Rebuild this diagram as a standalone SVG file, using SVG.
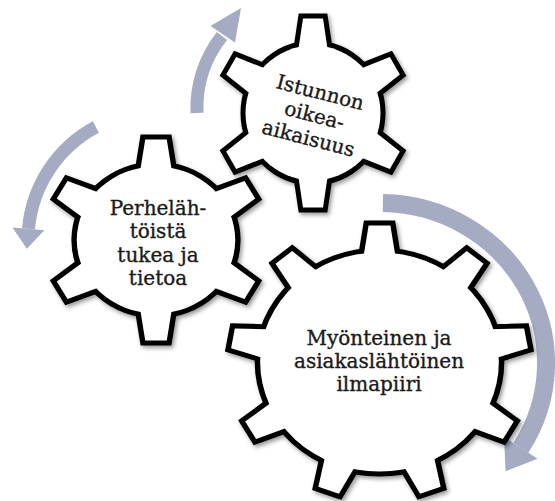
<svg xmlns="http://www.w3.org/2000/svg" width="555" height="501" viewBox="0 0 555 501">
<defs>
<style>
.outline { fill: #000; stroke: #000; stroke-width: 10; stroke-linejoin: miter; filter: url(#shadow); }
.face { fill: #fff; stroke: none; }
.label { font-family: "DejaVu Serif", "Liberation Serif", serif; font-size: 20px; fill: #1a1a1a; stroke: #1a1a1a; stroke-width: 0.35; text-anchor: middle; }
.arc { fill: none; stroke: #a4abc3; }
.head { fill: #a4abc3; stroke: none; }
</style>
<filter id="shadow" x="-10%" y="-10%" width="125%" height="125%">
<feDropShadow dx="2" dy="2.5" stdDeviation="2" flood-color="#000" flood-opacity="0.4"/>
</filter>
<path id="tooth" d="M-10,0 L10,0 L16,40 L-16,40 Z"/>
<g id="shape-large" transform="translate(379.5,362) scale(1.09,1)">
<circle r="109.5"/>
<use href="#tooth" transform="rotate(0) translate(0,-136.5)"/>
<use href="#tooth" transform="rotate(40) translate(0,-136.5)"/>
<use href="#tooth" transform="rotate(80) translate(0,-136.5)"/>
<use href="#tooth" transform="rotate(120) translate(0,-136.5)"/>
<use href="#tooth" transform="rotate(160) translate(0,-136.5)"/>
<use href="#tooth" transform="rotate(200) translate(0,-136.5)"/>
<use href="#tooth" transform="rotate(240) translate(0,-136.5)"/>
<use href="#tooth" transform="rotate(280) translate(0,-136.5)"/>
<use href="#tooth" transform="rotate(320) translate(0,-136.5)"/>
</g>
<g id="shape-top" transform="translate(313,113)">
<circle r="67.5"/>
<use href="#tooth" transform="rotate(0) translate(0,-94.5)"/>
<use href="#tooth" transform="rotate(60) translate(0,-94.5)"/>
<use href="#tooth" transform="rotate(120) translate(0,-94.5)"/>
<use href="#tooth" transform="rotate(180) translate(0,-94.5)"/>
<use href="#tooth" transform="rotate(240) translate(0,-94.5)"/>
<use href="#tooth" transform="rotate(300) translate(0,-94.5)"/>
</g>
<g id="shape-left" transform="translate(156,240) scale(1.078,1)">
<circle r="73.5"/>
<use href="#tooth" transform="rotate(0) translate(0,-100.5)"/>
<use href="#tooth" transform="rotate(60) translate(0,-100.5)"/>
<use href="#tooth" transform="rotate(120) translate(0,-100.5)"/>
<use href="#tooth" transform="rotate(180) translate(0,-100.5)"/>
<use href="#tooth" transform="rotate(240) translate(0,-100.5)"/>
<use href="#tooth" transform="rotate(300) translate(0,-100.5)"/>
</g>
</defs>

<g id="connectors">
<g id="arrow-top">
<path class="arc" stroke-width="13" d="M197,113 A116,116 0 0 1 222,36"/>
<polygon class="head" points="210.5,26 235,42.5 241,8"/>
</g>
<g id="arrow-left">
<path class="arc" stroke-width="13" d="M95.9,127 A128,128 0 0 0 28.5,228.8"/>
<polygon class="head" points="12.5,227.4 44.4,230.2 26.8,248.7"/>
</g>
<g id="arrow-right">
<path class="arc" stroke-width="18" d="M382.9,203 A166,160 0 0 1 520.8,447.8"/>
<polygon class="head" points="537.6,458.7 504,436.9 505.6,471.3"/>
</g>
</g>

<g id="gear-left">
<use href="#shape-left" class="outline"/>
<use href="#shape-left" class="face"/>
<text class="label" x="158" y="215">Perheläh-</text>
<text class="label" x="158" y="238">töistä</text>
<text class="label" x="158" y="262">tukea ja</text>
<text class="label" x="158" y="285">tietoa</text>
</g>

<g id="gear-top">
<use href="#shape-top" class="outline"/>
<use href="#shape-top" class="face"/>
<g transform="translate(312.7,122) rotate(14.5)">
<text class="label" x="0" y="-23.7">Istunnon</text>
<text class="label" x="0" y="0">oikea-</text>
<text class="label" x="0" y="23.7">aikaisuus</text>
</g>
</g>

<g id="gear-large">
<use href="#shape-large" class="outline"/>
<use href="#shape-large" class="face"/>
<text class="label" x="379" y="345">Myönteinen ja</text>
<text class="label" x="379" y="368">asiakaslähtöinen</text>
<text class="label" x="379" y="391">ilmapiiri</text>
</g>
</svg>
